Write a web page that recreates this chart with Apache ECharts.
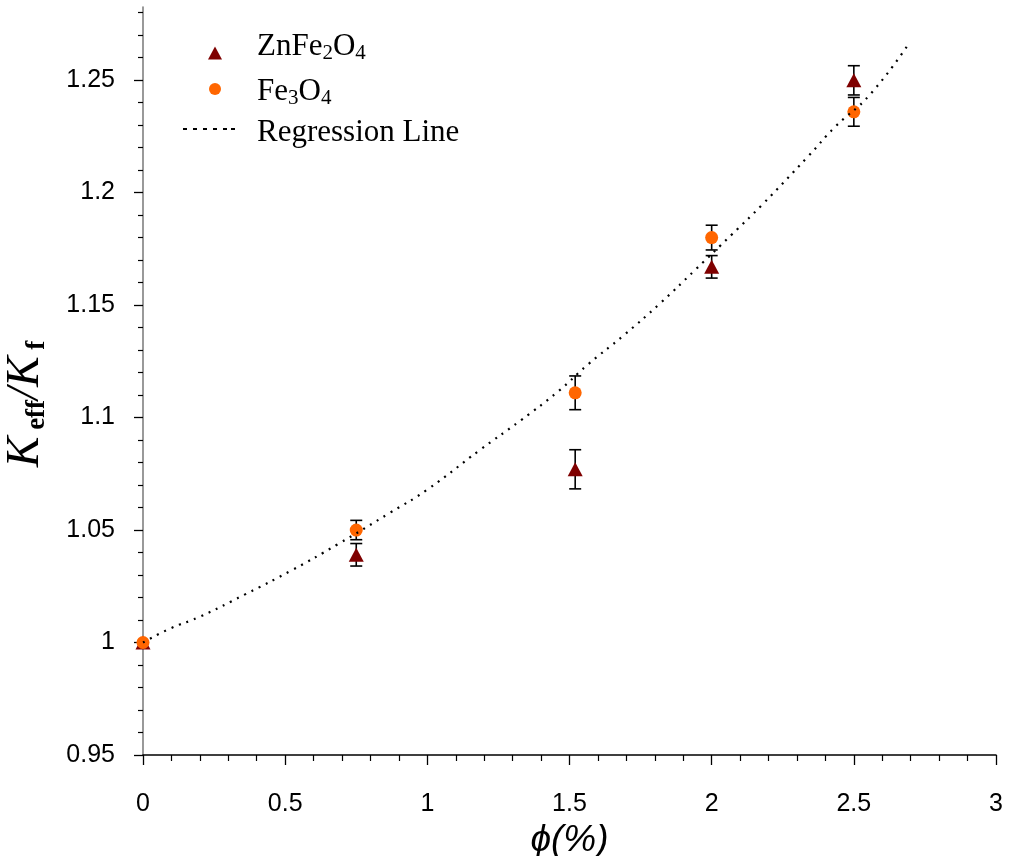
<!DOCTYPE html>
<html>
<head>
<meta charset="utf-8">
<script src="https://cdn.jsdelivr.net/npm/echarts@6/dist/echarts.min.js"></script>
<style>
html,body{margin:0;padding:0;background:#fff;}
#chart{width:1011px;height:856px;}
</style>
</head>
<body>
<div id="chart"></div>
<script>
// ---- data ----
const phiValues = [0, 0.75, 1.52, 2.0, 2.5];
const znFeValues = [1.0, 1.039, 1.077, 1.167, 1.2499];
const znFeErrors = [0, 0.005, 0.0087, 0.005, 0.0065];
const fe3O4Values = [1.0, 1.050, 1.111, 1.180, 1.2359];
const fe3O4Errors = [0, 0.0043, 0.0075, 0.0055, 0.0064];
const regressionX = [0, 0.097, 0.195, 0.359, 0.523, 0.684, 0.869, 1.0, 1.185, 1.33, 1.46, 1.564, 1.692, 1.819, 1.945, 2.071, 2.176, 2.34, 2.434, 2.557, 2.69];
const regressionY = [1.0, 1.0063, 1.0112, 1.0214, 1.0321, 1.0436, 1.0577, 1.068, 1.0856, 1.0989, 1.1116, 1.1235, 1.1367, 1.1508, 1.166, 1.1814, 1.1944, 1.2162, 1.2292, 1.2436, 1.2656];
const xTickLabels = [0, 0.5, 1, 1.5, 2, 2.5, 3];
const yTickLabels = [0.95, 1, 1.05, 1.1, 1.15, 1.2, 1.25];
const seriesNames = ['ZnFe2O4', 'Fe3O4', 'Regression Line'];
const legendLabels = ['ZnFe{s|2}O{s|4}', 'Fe{s|3}O{s|4}', 'Regression Line'];

const xMinor = [];
for (let i = 1; i < 30; i++) { if (i % 5 !== 0) xMinor.push(+(i * 0.1).toFixed(2)); }
const yMinor = [];
for (let i = 96; i <= 128; i++) { if (i % 5 !== 0) yMinor.push(+(i / 100).toFixed(2)); }

const zip = (a, b, c) => a.map((v, i) => c ? [v, b[i], c[i]] : [v, b[i]]);

function errorBar(params, api) {
  const x = api.value(0), y = api.value(1), e = api.value(2);
  if (!e) return null;
  const top = api.coord([x, y + e]);
  const bot = api.coord([x, y - e]);
  const hw = 6;
  const st = { stroke: '#000', lineWidth: 1.6 };
  return {
    type: 'group',
    children: [
      { type: 'line', shape: { x1: top[0], y1: top[1], x2: bot[0], y2: bot[1] }, style: st },
      { type: 'line', shape: { x1: top[0] - hw, y1: top[1], x2: top[0] + hw, y2: top[1] }, style: st },
      { type: 'line', shape: { x1: bot[0] - hw, y1: bot[1], x2: bot[0] + hw, y2: bot[1] }, style: st }
    ]
  };
}

const serif = 'Liberation Serif, Times New Roman, serif';
const legendText = (pad) => ({
  fontFamily: serif, fontSize: 31, lineHeight: 34, color: '#000', padding: pad,
  rich: { s: { fontFamily: serif, fontSize: 21, lineHeight: 22, verticalAlign: 'bottom', color: '#000' } }
});
const legendFmt = name => legendLabels[seriesNames.indexOf(name)];
const dashIcon = 'path://M0,0h4v2h-4z M10,0h4v2h-4z M20,0h4v2h-4z M30,0h4v2h-4z M40,0h4v2h-4z M48,0h4v2h-4z';

const tickFont = { fontFamily: 'Liberation Sans, Arial, sans-serif', fontSize: 25, color: '#000' };
const xRange = { min: 0, max: 3 };
const yRange = { min: 0.95, max: 1.2825 };

const chart = echarts.init(document.getElementById('chart'), null, { renderer: 'canvas' });
chart.setOption({
  backgroundColor: '#fff',
  animation: false,
  grid: { left: 143, right: 15, top: 7, bottom: 101, containLabel: false, outerBoundsMode: 'none' },
  legend: [
    {
      orient: 'vertical', left: 208, top: 30, padding: 0, itemWidth: 14, itemHeight: 13, selectedMode: false,
      data: [{ name: seriesNames[0], icon: 'triangle' }],
      formatter: legendFmt, textStyle: legendText([0, 0, 12, 30])
    },
    {
      orient: 'vertical', left: 209, top: 69, padding: 0, itemWidth: 12, itemHeight: 12, selectedMode: false,
      data: [{ name: seriesNames[1], icon: 'circle' }],
      formatter: legendFmt, textStyle: legendText([6, 0, 0, 31])
    },
    {
      orient: 'vertical', left: 183, top: 108, padding: 0, itemWidth: 52, itemHeight: 2, selectedMode: false,
      data: [{ name: seriesNames[2], icon: dashIcon, itemStyle: { color: '#000' } }],
      formatter: legendFmt, textStyle: legendText([8, 0, 0, 17])
    }
  ],
  xAxis: [
    {
      type: 'value', position: 'bottom', ...xRange,
      axisLine: { onZero: false, lineStyle: { color: '#000', width: 1.5 } },
      axisTick: { customValues: xTickLabels, length: 10, lineStyle: { color: '#000', width: 1.3 } },
      axisLabel: { customValues: xTickLabels, margin: 37, ...tickFont },
      splitLine: { show: false },
      name: 'ϕ(%)',
      nameLocation: 'middle',
      nameGap: 62,
      nameTextStyle: { fontFamily: 'Liberation Sans, Arial, sans-serif', fontStyle: 'italic', fontSize: 37, color: '#000' }
    },
    {
      type: 'value', position: 'bottom', ...xRange,
      axisLine: { show: false, onZero: false },
      axisTick: { customValues: xMinor, length: 6, lineStyle: { color: '#000', width: 1.2 } },
      axisLabel: { show: false },
      splitLine: { show: false }
    }
  ],
  yAxis: [
    {
      type: 'value', position: 'left', ...yRange,
      axisLine: { onZero: false, lineStyle: { color: '#808080', width: 1.6 } },
      axisTick: { customValues: yTickLabels, length: 9, lineStyle: { color: '#000', width: 1.3 } },
      axisLabel: { customValues: yTickLabels, margin: 28, ...tickFont },
      splitLine: { show: false },
      name: '{k|K}{sub| eff}{k|/K}{sub| f}',
      nameLocation: 'middle',
      nameRotate: 90,
      nameGap: 92,
      nameTextStyle: {
        color: '#000',
        padding: [0, 46, 0, 0],
        rich: {
          k: { fontFamily: serif, fontStyle: 'italic', fontSize: 46, lineHeight: 50, color: '#000' },
          sub: { fontFamily: serif, fontWeight: 'bold', fontSize: 27, lineHeight: 30, verticalAlign: 'bottom', color: '#000' }
        }
      }
    },
    {
      type: 'value', position: 'left', ...yRange,
      axisLine: { show: false, onZero: false },
      axisTick: { customValues: yMinor, length: 5, lineStyle: { color: '#000', width: 1.2 } },
      axisLabel: { show: false },
      splitLine: { show: false }
    }
  ],
  series: [
    {
      name: seriesNames[0] + ' err', type: 'custom', xAxisIndex: 0, yAxisIndex: 0,
      renderItem: errorBar, data: zip(phiValues, znFeValues, znFeErrors),
      encode: { x: 0, y: 1 }, z: 1, silent: true
    },
    {
      name: seriesNames[1] + ' err', type: 'custom', xAxisIndex: 0, yAxisIndex: 0,
      renderItem: errorBar, data: zip(phiValues, fe3O4Values, fe3O4Errors),
      encode: { x: 0, y: 1 }, z: 1, silent: true
    },
    {
      name: seriesNames[0], type: 'scatter', xAxisIndex: 0, yAxisIndex: 0,
      symbol: 'triangle', symbolSize: [15, 14],
      itemStyle: { color: '#7F0000', opacity: 1 },
      data: zip(phiValues, znFeValues), z: 3
    },
    {
      name: seriesNames[1], type: 'scatter', xAxisIndex: 0, yAxisIndex: 0,
      symbol: 'circle', symbolSize: 13,
      itemStyle: { color: '#FF6600', opacity: 1 },
      data: zip(phiValues, fe3O4Values), z: 4
    },
    {
      name: seriesNames[2], type: 'line', xAxisIndex: 0, yAxisIndex: 0,
      smooth: true, symbol: 'none',
      lineStyle: { color: '#000', width: 2.2, type: [2, 6] },
      itemStyle: { color: '#000' },
      data: zip(regressionX, regressionY), z: 5
    }
  ]
});
</script>
</body>
</html>
